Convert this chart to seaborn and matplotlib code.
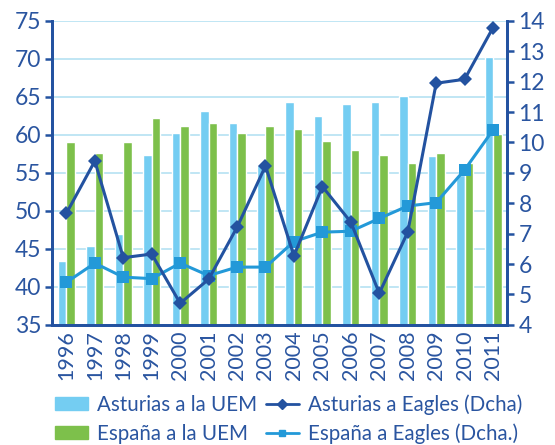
import numpy as np
import pandas as pd
import matplotlib
matplotlib.use("Agg")
import matplotlib.pyplot as plt
import seaborn as sns
from matplotlib.ticker import FixedLocator, MultipleLocator
from matplotlib.patches import Patch
from matplotlib.lines import Line2D

years = [str(y) for y in range(1996, 2012)]

asturias_uem = [43.4, 45.4, 47.0, 57.4, 60.2, 63.2, 61.5, 56.0,
                64.3, 62.5, 64.1, 64.3, 65.1, 57.2, 54.7, 70.3]
espana_uem = [59.0, 57.6, 59.0, 62.2, 61.2, 61.5, 60.3, 61.2,
              60.8, 59.2, 58.0, 57.4, 56.3, 57.6, 56.3, 60.1]
asturias_eagles = [7.67, 9.39, 6.21, 6.33, 4.71, 5.50, 7.21, 9.23,
                   6.27, 8.55, 7.38, 5.04, 7.05, 11.95, 12.08, 13.78]
espana_eagles = [5.40, 6.03, 5.57, 5.52, 6.03, 5.62, 5.90, 5.90,
                 6.74, 7.05, 7.08, 7.50, 7.91, 8.02, 9.10, 10.41]

c_bar1 = "#74CDF2"
c_bar2 = "#7DC04B"
c_line1 = "#2352A0"
c_line2 = "#2399D8"
c_text = "#2A55A0"
c_grid = "#B5E2F2"

sns.set_style("white")
plt.rcParams['font.family'] = ['Lato', 'DejaVu Sans']

df = pd.DataFrame({
    "year": years * 2,
    "valor": asturias_uem + espana_uem,
    "serie": ["Asturias a la UEM"] * 16 + ["España a la UEM"] * 16,
})

fig = plt.figure(figsize=(5.55, 4.45), dpi=100)
ax = fig.add_axes([0.094, 0.270, 0.820, 0.683])

sns.barplot(data=df, x="year", y="valor", hue="serie",
            palette=[c_bar1, c_bar2], width=0.6, gap=0,
            saturation=1, ax=ax, legend=False, zorder=2)
ax.set_ylim(35, 75)
ax.set_xlim(-0.5, 15.5)
ax.yaxis.set_major_locator(MultipleLocator(5))
ax.grid(axis="y", color=c_grid, linewidth=1.2, zorder=0)
ax.set_axisbelow(True)
ax.set_xlabel("")
ax.set_ylabel("")

# right axis lines
ax2 = ax.twinx()
pos = np.arange(len(years))
sns.lineplot(x=pos, y=asturias_eagles, ax=ax2, color=c_line1, marker="D",
             markersize=7, markeredgewidth=0, linewidth=2.2, zorder=4)
sns.lineplot(x=pos, y=espana_eagles, ax=ax2, color=c_line2, marker="s",
             markersize=8, markeredgewidth=0, linewidth=2.2, zorder=3)
ax2.set_ylim(4, 14)
ax2.yaxis.set_major_locator(MultipleLocator(1))
ax2.set_xlim(-0.5, 15.5)

ax.set_xticks(pos)
ax.set_xticklabels(years, rotation=90)
ax.xaxis.set_minor_locator(FixedLocator(np.arange(-0.5, 16, 1)))
ax.tick_params(axis="x", which="major", length=0, pad=4,
               labelsize=15.5, labelcolor=c_text)
ax.tick_params(axis="x", which="minor", length=7, width=1.8, color=c_line1)
ax.tick_params(axis="y", length=5, width=1.8, color=c_line1,
               labelsize=16.5, labelcolor=c_text, pad=3)
ax2.tick_params(axis="y", length=5, width=1.8, color=c_line1,
                labelsize=16.5, labelcolor=c_text, pad=3)

for a in (ax, ax2):
    a.spines["top"].set_visible(False)
    for s in ("left", "right", "bottom"):
        a.spines[s].set_color(c_line1)
        a.spines[s].set_linewidth(2)

handles = [
    Patch(color=c_bar1, label="Asturias a la UEM"),
    Patch(color=c_bar2, label="España a la UEM"),
    Line2D([], [], color=c_line1, marker="D", markersize=5, linewidth=2,
           label="Asturias a Eagles (Dcha)"),
    Line2D([], [], color=c_line2, marker="s", markersize=5, linewidth=2,
           label="España a Eagles (Dcha.)"),
]
fig.legend(handles=handles, ncol=2, loc="lower left",
           bbox_to_anchor=(0.066, -0.04), frameon=False, fontsize=14.8,
           labelcolor=c_text, handlelength=1.6, handleheight=0.6,
           handletextpad=0.42, columnspacing=0.45, labelspacing=0.42)

fig.savefig("out.png", dpi=100)
